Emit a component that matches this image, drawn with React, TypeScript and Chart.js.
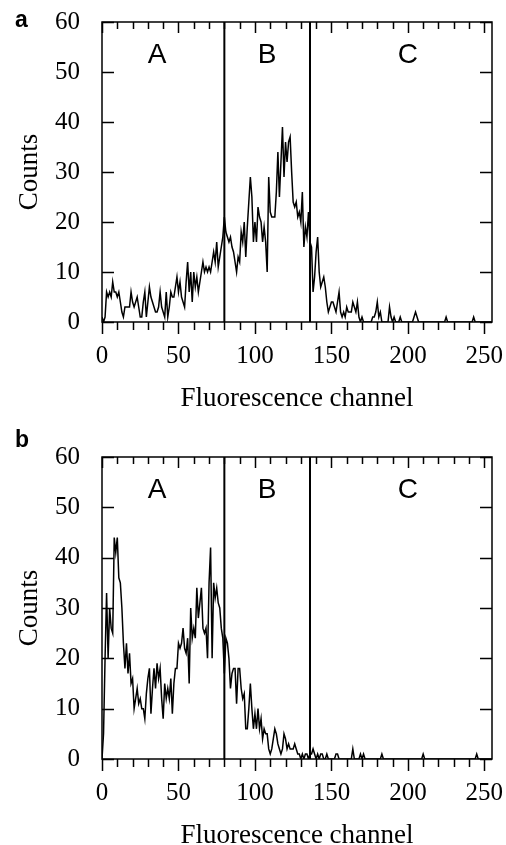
import React, { useEffect, useRef } from "react";
import { Chart, registerables } from "chart.js";

Chart.register(...registerables);

// ---------- data ----------
const channels: number[] = Array.from({ length: 256 }, (_, i) => i);

const countsA: number[] = [
  1, 0, 1, 6, 5, 6, 5, 8, 6, 6,
  5, 6, 4, 2, 1, 3, 3, 3, 3, 6,
  4, 3, 4, 5, 3, 1, 1, 4, 6, 1,
  4, 7, 5, 4, 3, 2, 2, 3, 6, 3,
  2, 1, 6, 1, 3, 6, 5, 5, 7, 9,
  6, 8, 5, 4, 3, 8, 12, 6, 10, 4,
  10, 7, 9, 6, 8, 10, 12, 10, 11, 10,
  11, 10, 12, 14, 12, 16, 11, 13, 15, 17,
  21, 18, 17, 16, 17, 15, 14, 12, 10, 13,
  12, 18, 16, 20, 13, 19, 24, 29, 25, 16,
  20, 16, 23, 21, 20, 16, 19, 16, 10, 29,
  22, 21, 21, 21, 26, 34, 25, 32, 39, 29,
  36, 32, 36, 37, 30, 24, 23, 24, 21, 22,
  20, 26, 15, 19, 17, 22, 16, 15, 6, 9,
  14, 17, 10, 7, 8, 9, 7, 4, 2, 3,
  4, 4, 3, 2, 4, 6, 2, 1, 2, 1,
  3, 2, 2, 2, 4, 3, 2, 4, 1, 0,
  1, 0, 0, 0, 0, 0, 0, 1, 1, 2,
  4, 1, 2, 0, 0, 0, 0, 0, 3, 1,
  0, 1, 0, 0, 0, 1, 0, 0, 0, 0,
  0, 0, 0, 0, 1, 2, 1, 0, 0, 0,
  0, 0, 0, 0, 0, 0, 0, 0, 0, 0,
  0, 0, 0, 0, 0, 1, 0, 0, 0, 0,
  0, 0, 0, 0, 0, 0, 0, 0, 0, 0,
  0, 0, 0, 1, 0, 0, 0, 0, 0, 0,
  0, 0, 0, 0, 0, 0,
];

const countsB: number[] = [
  0, 5, 20, 33, 20, 30, 26, 25, 44, 41,
  44, 36, 35, 30, 23, 18, 23, 17, 21, 15,
  16, 10, 12, 14, 11, 12, 10, 10, 8, 13,
  16, 18, 9, 14, 18, 14, 19, 16, 18, 12,
  8, 15, 12, 14, 12, 16, 9, 15, 18, 18,
  23, 22, 23, 26, 22, 21, 24, 15, 30, 24,
  26, 24, 34, 28, 31, 34, 26, 25, 26, 20,
  35, 42, 20, 35, 32, 34, 31, 30, 26, 24,
  17, 24, 23, 20, 14, 17, 18, 18, 11, 18,
  18, 14, 12, 13, 6, 6, 10, 15, 10, 6,
  9, 6, 10, 6, 8, 4, 6, 5, 5, 2,
  1, 2, 4, 6, 5, 3, 2, 1, 2, 5,
  4, 2, 3, 2, 2, 2, 3, 2, 1, 1,
  0, 1, 0, 1, 1, 0, 1, 1, 2, 1,
  0, 1, 0, 1, 1, 0, 0, 1, 0, 0,
  0, 0, 0, 1, 1, 0, 0, 0, 0, 0,
  0, 0, 0, 0, 2, 0, 0, 0, 0, 1,
  0, 1, 0, 0, 0, 0, 0, 0, 0, 0,
  0, 0, 0, 1, 0, 0, 0, 0, 0, 0,
  0, 0, 0, 0, 0, 0, 0, 0, 0, 0,
  0, 0, 0, 0, 0, 0, 0, 0, 0, 0,
  1, 0, 0, 0, 0, 0, 0, 0, 0, 0,
  0, 0, 0, 0, 0, 0, 0, 0, 0, 0,
  0, 0, 0, 0, 0, 0, 0, 0, 0, 0,
  0, 0, 0, 0, 0, 1, 0, 0, 0, 0,
  0, 0, 0, 0, 0, 0,
];

const gateChannels: number[] = [80, 136];
const regionLabels: string[] = ["A", "B", "C"];
const regionLabelX: number[] = [36, 108, 200];
const regionLabelY = 53.4;
const panelLetters: string[] = ["a", "b"];
const xTickValues: number[] = [0, 50, 100, 150, 200, 250];
const yTickValues: number[] = [0, 10, 20, 30, 40, 50, 60];
const xAxisTitle = "Fluorescence channel";
const yAxisTitle = "Counts";
const xMin = 0;
const xMax = 255;
const yMin = 0;
const yMax = 60;

// ---------- styling ----------
const SERIF = "'Liberation Serif', 'Times New Roman', Times, serif";
const SANS = "'Liberation Sans', Arial, Helvetica, sans-serif";

const decorPlugin = {
  id: "decor",
  afterDatasetsDraw(chart: any, _args: any, opts: any) {
    const { ctx, chartArea, scales } = chart;
    const { left, right, top, bottom } = chartArea;
    const xs = scales.x;
    const ys = scales.y;
    ctx.save();
    ctx.strokeStyle = "#000";
    ctx.fillStyle = "#000";
    ctx.lineWidth = 1.5;
    ctx.strokeRect(left, top, right - left, bottom - top);

    ctx.beginPath();
    for (let v = xMin; v <= 250; v += 10) {
      const px = Math.round(xs.getPixelForValue(v)) + 0.5;
      const major = v % 50 === 0;
      ctx.moveTo(px, bottom);
      ctx.lineTo(px, bottom + (major ? 12 : 8));
      ctx.moveTo(px, top);
      ctx.lineTo(px, top + (major ? 11 : 7));
    }
    for (const v of yTickValues) {
      const py = Math.round(ys.getPixelForValue(v)) + 0.5;
      ctx.moveTo(left, py);
      ctx.lineTo(left + 12, py);
      ctx.moveTo(right, py);
      ctx.lineTo(right - 12, py);
    }
    ctx.stroke();

    ctx.font = `28px ${SANS}`;
    ctx.textAlign = "center";
    ctx.textBaseline = "middle";
    regionLabels.forEach((t, i) => {
      ctx.fillText(t, xs.getPixelForValue(regionLabelX[i]), ys.getPixelForValue(regionLabelY));
    });

    ctx.font = `bold 23px ${SANS}`;
    ctx.textAlign = "left";
    ctx.textBaseline = "alphabetic";
    ctx.fillText(opts.letter, 15, 27);
    ctx.restore();
  },
};

type PanelProps = {
  counts: number[];
  letter: string;
  top: number;
  height: number;
  areaTop: number;
  areaBottom: number;
  titlePadBottom: number;
};

function Panel({ counts, letter, top, height, areaTop, areaBottom, titlePadBottom }: PanelProps) {
  const ref = useRef<HTMLCanvasElement | null>(null);
  useEffect(() => {
    if (!ref.current) return;
    const series = channels.map((c, i) => ({ x: c, y: counts[i] }));
    const gateSets = gateChannels.map((g) => ({
      data: [
        { x: g, y: yMin },
        { x: g, y: yMax },
      ],
      borderColor: "#000",
      borderWidth: 2,
      pointRadius: 0,
      fill: false,
    }));
    const chart = new Chart(ref.current, {
      type: "line",
      data: {
        datasets: [
          {
            data: series,
            borderColor: "#000",
            borderWidth: 1.5,
            pointRadius: 0,
            tension: 0,
            fill: false,
          },
          ...gateSets,
        ],
      },
      options: {
        responsive: false,
        animation: false,
        layout: { padding: { left: 0, right: 14, top: areaTop, bottom: 0 } },
        plugins: {
          legend: { display: false },
          tooltip: { enabled: false },
          decor: { letter },
        } as any,
        scales: {
          x: {
            type: "linear",
            min: xMin,
            max: xMax,
            grid: { display: false, drawTicks: false },
            border: { display: false },
            afterBuildTicks: (s: any) => {
              s.ticks = xTickValues.map((v) => ({ value: v }));
            },
            ticks: {
              autoSkip: false,
              maxRotation: 0,
              color: "#000",
              padding: 19,
              font: { family: SERIF, size: 25 },
              callback: (v: any) => String(v),
            },
            title: {
              display: true,
              text: xAxisTitle,
              color: "#000",
              font: { family: SERIF, size: 27 },
              padding: { top: 0, bottom: titlePadBottom },
            },
            afterFit: (s: any) => {
              s.height = height - areaBottom;
              s.paddingLeft = 0;
              s.paddingRight = 0;
            },
          },
          y: {
            type: "linear",
            min: yMin,
            max: yMax,
            grid: { display: false, drawTicks: false },
            border: { display: false },
            afterBuildTicks: (s: any) => {
              s.ticks = yTickValues.map((v) => ({ value: v }));
            },
            ticks: {
              color: "#000",
              padding: 22,
              font: { family: SERIF, size: 25 },
            },
            title: {
              display: true,
              text: yAxisTitle,
              color: "#000",
              font: { family: SERIF, size: 27 },
              padding: { top: 14, bottom: 0 },
            },
            afterFit: (s: any) => {
              s.width = 102;
              s.paddingTop = 0;
              s.paddingBottom = 0;
            },
          },
        },
      } as any,
      plugins: [decorPlugin as any],
    });
    return () => chart.destroy();
  }, [counts, letter, height, areaTop, areaBottom, titlePadBottom]);

  return (
    <canvas
      ref={ref}
      width={506}
      height={height}
      style={{ position: "absolute", left: 0, top, width: 506, height, display: "block" }}
    />
  );
}

export default function App() {
  return (
    <div
      style={{
        position: "fixed",
        left: 0,
        top: 0,
        width: 506,
        height: 845,
        overflow: "hidden",
        background: "#fff",
      }}
    >
      <Panel counts={countsA} letter={panelLetters[0]} top={0} height={420} areaTop={22} areaBottom={322} titlePadBottom={5} />
      <Panel counts={countsB} letter={panelLetters[1]} top={420} height={440} areaTop={37} areaBottom={339} titlePadBottom={8} />
    </div>
  );
}
